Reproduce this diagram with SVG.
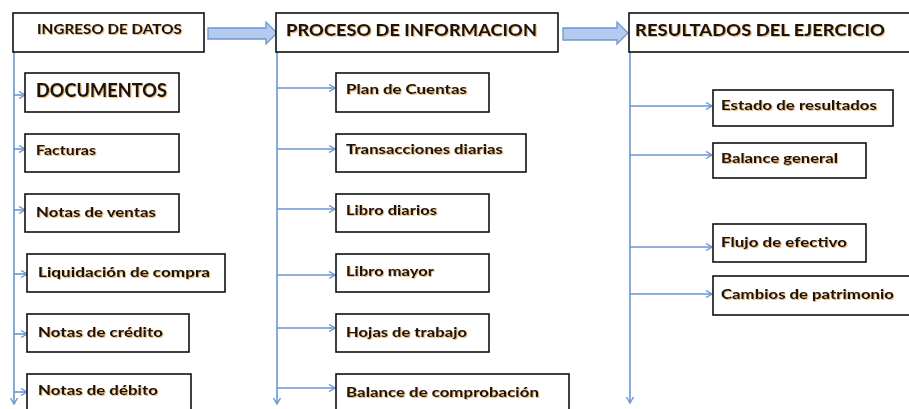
<svg xmlns="http://www.w3.org/2000/svg" width="909" height="409" viewBox="0 0 909 409">
<style>
.box{fill:#fff;stroke:#111;stroke-width:1.6}
.t{font-family:Lato,"Open Sans","Liberation Sans",sans-serif;font-weight:900;fill:#151515;filter:url(#glow)}
.s{font-size:14px}
.line{stroke:#6a96d2;stroke-width:1.6;fill:none}
.block{fill:#b3cbee;stroke:#6f97d2;stroke-width:1.3}
</style>
<defs>
<filter id="glow" x="-5%" y="-30%" width="110%" height="160%">
<feGaussianBlur in="SourceAlpha" stdDeviation="0.7" result="b"/>
<feFlood flood-color="#f0a040" flood-opacity="0.7"/>
<feComposite in2="b" operator="in" result="c"/>
<feOffset dx="0.6" dy="0.6" result="o"/>
<feMerge><feMergeNode in="o"/><feMergeNode in="SourceGraphic"/></feMerge>
</filter>
<marker id="ah" markerWidth="8" markerHeight="8" refX="7" refY="4" orient="auto" markerUnits="userSpaceOnUse">
<path d="M1,0.5 L7,4 L1,7.5" fill="none" stroke="#6a96d2" stroke-width="1.4"/>
</marker>
</defs>
<g id="connectors">
<path class="line" d="M14,52 V404" marker-end="url(#ah)"/>
<path class="line" d="M14,95 H25" marker-end="url(#ah)"/>
<path class="line" d="M14,149 H25" marker-end="url(#ah)"/>
<path class="line" d="M14,210 H25" marker-end="url(#ah)"/>
<path class="line" d="M14,274 H27" marker-end="url(#ah)"/>
<path class="line" d="M14,334 H27" marker-end="url(#ah)"/>
<path class="line" d="M14,392 H27" marker-end="url(#ah)"/>
<path class="line" d="M277,52 V404" marker-end="url(#ah)"/>
<path class="line" d="M277,88 H335" marker-end="url(#ah)"/>
<path class="line" d="M277,149 H335" marker-end="url(#ah)"/>
<path class="line" d="M277,209 H335" marker-end="url(#ah)"/>
<path class="line" d="M277,275 H335" marker-end="url(#ah)"/>
<path class="line" d="M277,328 H335" marker-end="url(#ah)"/>
<path class="line" d="M277,388 H335" marker-end="url(#ah)"/>
<path class="line" d="M630,52 V403" marker-end="url(#ah)"/>
<path class="line" d="M630,106 H712" marker-end="url(#ah)"/>
<path class="line" d="M630,155 H712" marker-end="url(#ah)"/>
<path class="line" d="M630,247 H712" marker-end="url(#ah)"/>
<path class="line" d="M630,294 H712" marker-end="url(#ah)"/>
<path class="block" d="M208,28 H266 V22 L277,33 L266,44 V39 H208 Z"/>
<path class="block" d="M563,28 H617 V22 L628,33 L617,44 V40 H563 Z"/>
</g>
<g id="n-ingreso"><rect class="box" x="13" y="13" width="191" height="39"/><text class="t" x="37" y="34" font-size="14" textLength="145" lengthAdjust="spacingAndGlyphs">INGRESO DE DATOS</text></g>
<g id="n-documentos"><rect class="box" x="25" y="73" width="154" height="39"/><text class="t" x="36" y="97" font-size="19" textLength="131" lengthAdjust="spacingAndGlyphs">DOCUMENTOS</text></g>
<g id="n-facturas"><rect class="box" x="25" y="134" width="154" height="38"/><text class="t s" x="36" y="155" textLength="60" lengthAdjust="spacingAndGlyphs">Facturas</text></g>
<g id="n-ventas"><rect class="box" x="25" y="194" width="154" height="38"/><text class="t s" x="36" y="217" textLength="120" lengthAdjust="spacingAndGlyphs">Notas de ventas</text></g>
<g id="n-liquidacion"><rect class="box" x="27" y="254" width="198" height="38"/><text class="t s" x="38" y="277" textLength="172" lengthAdjust="spacingAndGlyphs">Liquidación de compra</text></g>
<g id="n-credito"><rect class="box" x="27" y="314" width="162" height="38"/><text class="t s" x="38" y="337" textLength="125" lengthAdjust="spacingAndGlyphs">Notas de crédito</text></g>
<g id="n-debito"><rect class="box" x="27" y="374" width="164" height="40"/><text class="t s" x="38" y="395" textLength="120" lengthAdjust="spacingAndGlyphs">Notas de débito</text></g>
<g id="n-proceso"><rect class="box" x="276" y="13" width="282" height="39"/><text class="t" x="286" y="36" font-size="17" textLength="251" lengthAdjust="spacingAndGlyphs">PROCESO DE INFORMACION</text></g>
<g id="n-plan"><rect class="box" x="336" y="73" width="153" height="39"/><text class="t s" x="346" y="94" textLength="121" lengthAdjust="spacingAndGlyphs">Plan de Cuentas</text></g>
<g id="n-transacciones"><rect class="box" x="336" y="134" width="190" height="38"/><text class="t s" x="346" y="154" textLength="157" lengthAdjust="spacingAndGlyphs">Transacciones diarias</text></g>
<g id="n-librodiarios"><rect class="box" x="336" y="194" width="153" height="38"/><text class="t s" x="346" y="215" textLength="91" lengthAdjust="spacingAndGlyphs">Libro diarios</text></g>
<g id="n-libromayor"><rect class="box" x="336" y="254" width="153" height="38"/><text class="t s" x="346" y="276" textLength="88" lengthAdjust="spacingAndGlyphs">Libro mayor</text></g>
<g id="n-hojas"><rect class="box" x="336" y="314" width="153" height="38"/><text class="t s" x="346" y="337" textLength="121" lengthAdjust="spacingAndGlyphs">Hojas de trabajo</text></g>
<g id="n-balancecomp"><rect class="box" x="336" y="374" width="233" height="40"/><text class="t s" x="346" y="397" textLength="193" lengthAdjust="spacingAndGlyphs">Balance de comprobación</text></g>
<g id="n-resultados"><rect class="box" x="629" y="13" width="282" height="39"/><text class="t" x="635" y="36" font-size="17" textLength="250" lengthAdjust="spacingAndGlyphs">RESULTADOS DEL EJERCICIO</text></g>
<g id="n-estado"><rect class="box" x="713" y="90" width="180" height="36"/><text class="t s" x="721" y="110" textLength="156" lengthAdjust="spacingAndGlyphs">Estado de resultados</text></g>
<g id="n-balancegen"><rect class="box" x="713" y="143" width="153" height="35"/><text class="t s" x="721" y="163" textLength="117" lengthAdjust="spacingAndGlyphs">Balance general</text></g>
<g id="n-flujo"><rect class="box" x="713" y="224" width="153" height="38"/><text class="t s" x="721" y="247" textLength="126" lengthAdjust="spacingAndGlyphs">Flujo de efectivo</text></g>
<g id="n-cambios"><rect class="box" x="713" y="276" width="198" height="39"/><text class="t s" x="721" y="299" textLength="173" lengthAdjust="spacingAndGlyphs">Cambios de patrimonio</text></g>
</svg>
